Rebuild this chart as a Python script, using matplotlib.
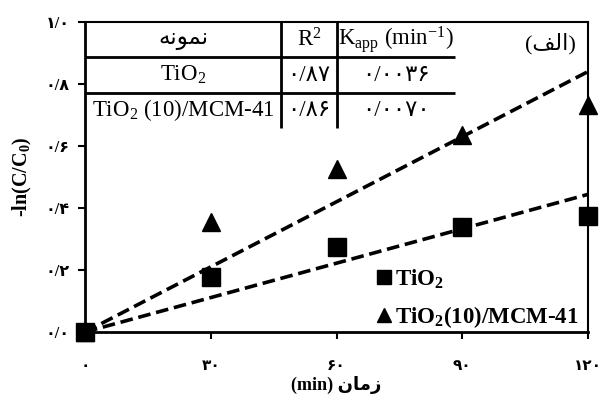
import numpy as np
import matplotlib
matplotlib.use("Agg")
import matplotlib.pyplot as plt

# Persian text is written in visual order with Arabic presentation forms,
# because matplotlib does no bidi / shaping on its own.
plt.rcParams['font.family'] = ['Liberation Serif', 'DejaVu Sans']
plt.rcParams['mathtext.fontset'] = 'custom'
plt.rcParams['mathtext.rm'] = 'Liberation Serif'
plt.rcParams['mathtext.it'] = 'Liberation Serif:italic'
plt.rcParams['mathtext.bf'] = 'Liberation Serif:bold'

# data
time_min = [0, 30, 60, 90, 120]
tio2 = [0.0, 0.176, 0.273, 0.340, 0.374]
tio2_mcm = [0.0, 0.355, 0.526, 0.634, 0.732]
fit_slopes = [0.0037, 0.0070]

x_ticks = [0, 30, 60, 90, 120]
x_ticklabels = ['۰', '۳۰', '۶۰', '۹۰', '۱۲۰']
y_ticks = [0.0, 0.2, 0.4, 0.6, 0.8, 1.0]
y_ticklabels = ['۰/۰', '۰/۲', '۰/۴', '۰/۶', '۰/۸', '۱/۰']

table_rows = [
    ['ﻪﻧﻮﻤﻧ', 'R$^2$', 'K$_{\\mathrm{app}}$ (min$^{-1}$)'],
    ['TiO$_2$', '۰/۸۷', '۰/۰۰۳۶'],
    ['TiO$_2$ (10)/MCM-41', '۰/۸۶', '۰/۰۰۷۰'],
]
series_labels = ['$\\mathbf{TiO_2}$', '$\\mathbf{TiO_2}$(10)/MCM-41']

fig = plt.figure(figsize=(6.01, 4.01), dpi=100)
ax = fig.add_axes([85 / 601, 69 / 401, 503 / 601, 310 / 401])

# fitted first-order lines through the origin
xf = np.array([0, 120])
for k in fit_slopes:
    ax.plot(xf, k * xf, color='black', lw=2.6, dashes=(3.5, 1.6), zorder=2)

ax.plot(time_min, tio2, 's', color='black', ms=13, clip_on=False,
        zorder=3, label=series_labels[0])
ax.plot(time_min, tio2_mcm, '^', color='black', ms=13, clip_on=False,
        zorder=3, label=series_labels[1])

ax.set_xlim(0, 120)
ax.set_ylim(0, 1.0)
ax.set_xticks(x_ticks)
ax.set_xticklabels(x_ticklabels, fontweight='bold', fontsize=11)
ax.set_yticks(y_ticks)
ax.set_yticklabels(y_ticklabels, fontweight='bold', fontsize=11.5)
ax.tick_params(direction='out', length=5, width=1.5)
ax.tick_params(axis='x', pad=15)
ax.tick_params(axis='y', pad=6)
for side in ['left', 'bottom']:
    ax.spines[side].set_linewidth(2)
for side in ['top', 'right']:
    ax.spines[side].set_linewidth(1.5)

ax.set_ylabel('-ln(C/C$_\\mathbf{0}$)', fontweight='bold', fontsize=14.5, labelpad=8)
ax.set_xlabel('(min) ﻥﺎﻣﺯ', fontweight='bold', fontsize=13, labelpad=2)

ax.text(0.975, 0.93, '(ﻒﻟﺍ)', transform=ax.transAxes, fontsize=16,
        ha='right', va='center')

leg = ax.legend(loc='lower right', bbox_to_anchor=(1.0, -0.024), frameon=False,
                handlelength=0.6, handletextpad=0.2, labelspacing=0.6,
                borderaxespad=0.0, markerscale=0.8,
                prop={'weight': 'bold', 'size': 16.5})

# kinetics table in the upper left corner
tab = ax.table(cellText=table_rows, cellLoc='center',
               colWidths=[0.39, 0.111, 0.235],
               bbox=[0, 1 - 0.342, 0.736, 0.342])
tab.auto_set_font_size(False)
tab.set_fontsize(16.5)
for (r, c), cell in tab.get_celld().items():
    edges = ''
    if c < 2:
        edges += 'R'
    if r < 2:
        edges += 'B'
    cell.visible_edges = edges if edges else 'open'
    cell.set_linewidth(2)
    cell.set_facecolor('none')

fig.savefig('out.png', dpi=100)
